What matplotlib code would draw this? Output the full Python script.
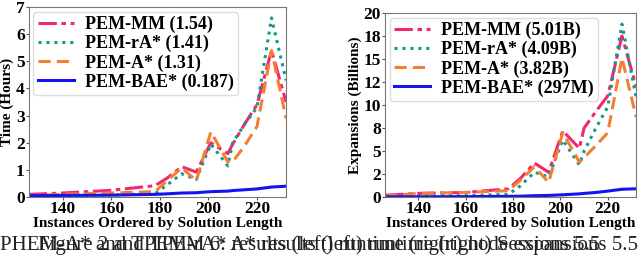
import matplotlib
matplotlib.use("Agg")
import matplotlib.pyplot as plt
from matplotlib.ticker import FuncFormatter, MultipleLocator

# solution-length positions of the plotted instances
x_len = [126, 140, 160, 178, 183, 189, 195, 201, 208, 210, 215, 220, 226, 232]

# runtime (hours)
time_mm = [0.10, 0.15, 0.25, 0.42, 0.70, 1.12, 0.92, 2.00, 1.60, 1.95, 2.70, 3.40, 5.40, 3.50]
time_ra = [0.05, 0.06, 0.08, 0.12, 0.45, 0.86, 0.65, 1.95, 1.15, 2.00, 2.70, 3.30, 6.60, 4.30]
time_a = [0.05, 0.10, 0.15, 0.20, 0.60, 1.08, 0.60, 2.40, 1.30, 1.30, 1.90, 2.60, 5.40, 2.90]
time_bae = [0.05, 0.06, 0.07, 0.10, 0.12, 0.15, 0.16, 0.20, 0.22, 0.24, 0.27, 0.30, 0.37, 0.40]

# node expansions (billions)
exp_mm = [0.20, 0.40, 0.50, 0.90, 2.00, 3.70, 2.70, 7.20, 5.30, 7.50, 9.30, 11.0, 17.5, 12.0]
exp_ra = [0.05, 0.10, 0.15, 0.30, 1.20, 2.70, 2.20, 6.20, 3.50, 5.00, 7.50, 9.80, 18.8, 10.8]
exp_a = [0.10, 0.40, 0.50, 0.70, 1.80, 3.30, 1.60, 7.00, 3.80, 4.30, 5.60, 7.00, 15.1, 8.70]
exp_bae = [0.02, 0.03, 0.05, 0.08, 0.10, 0.15, 0.18, 0.25, 0.35, 0.40, 0.50, 0.65, 0.85, 0.90]

labels_time = ["PEM-MM (1.54)", "PEM-rA* (1.41)", "PEM-A* (1.31)", "PEM-BAE* (0.187)"]
labels_exp = ["PEM-MM (5.01B)", "PEM-rA* (4.09B)", "PEM-A* (3.82B)", "PEM-BAE* (297M)"]

COL = ["#F2286E", "#0F9A8A", "#F37F35", "#1414F0"]
STY = [(0, (6, 1.5, 1.5, 1.5)), (0, (1, 1.6)), (0, (4, 2)), "-"]

plt.rcParams["font.family"] = ["Liberation Serif", "DejaVu Serif"]
plt.rcParams["font.weight"] = "bold"

fig = plt.figure(figsize=(6.4, 2.6), dpi=100)
axL = fig.add_axes([0.045, 0.242, 0.402, 0.731])
axR = fig.add_axes([0.602, 0.242, 0.392, 0.708])


def draw(ax, series, labels):
    for ys, lab, c, ls in zip(series, labels, COL, STY):
        ax.plot(x_len, ys, color=c, linestyle=ls, lw=2.2, label=lab)
    ax.set_xlim(126, 232)
    ax.set_xticks([140, 160, 180, 200, 220])
    ax.set_xlabel("Instances Ordered by Solution Length", fontsize=11,
                  fontweight="bold", labelpad=0)
    ax.tick_params(labelsize=12.5, length=2, pad=1, color="#555")
    for s in ax.spines.values():
        s.set_color("#777")
    leg = ax.legend(loc="upper left", handlelength=2.0,
                    borderpad=0.25, labelspacing=0.1, handletextpad=0.6,
                    borderaxespad=0.25, framealpha=1,
                    prop={"weight": "bold", "size": 13})
    leg.get_frame().set_edgecolor("#ddd")


draw(axL, [time_mm, time_ra, time_a, time_bae], labels_time)
axL.set_ylim(0, 7)
axL.yaxis.set_major_locator(MultipleLocator(1))
axL.set_ylabel("Time (Hours)", fontsize=11, fontweight="bold", labelpad=1)

draw(axR, [exp_mm, exp_ra, exp_a, exp_bae], labels_exp)
axR.set_ylim(0, 20)
axR.yaxis.set_major_locator(MultipleLocator(2.5))
axR.yaxis.set_major_formatter(FuncFormatter(lambda v, p: f"{v:.0f}"))
axR.set_ylabel("Expansions (Billions)", fontsize=11, fontweight="bold", labelpad=1)

# caption of the source page, two lines printed over each other in the crop
fig.text(0.0, 0.02, "PHEM-A* and TPEM-rA* results (left) runtime (right) node expansions 5.5",
         fontsize=15, fontweight="normal", color="#222", ha="left", va="bottom")
fig.text(0.06, 0.02, "Figure 2 and TPEM 6: A* results (left) runtime (right) Sessions 5.5",
         fontsize=15, fontweight="normal", color="#222", ha="left", va="bottom")

fig.savefig("out.png", dpi=100)
